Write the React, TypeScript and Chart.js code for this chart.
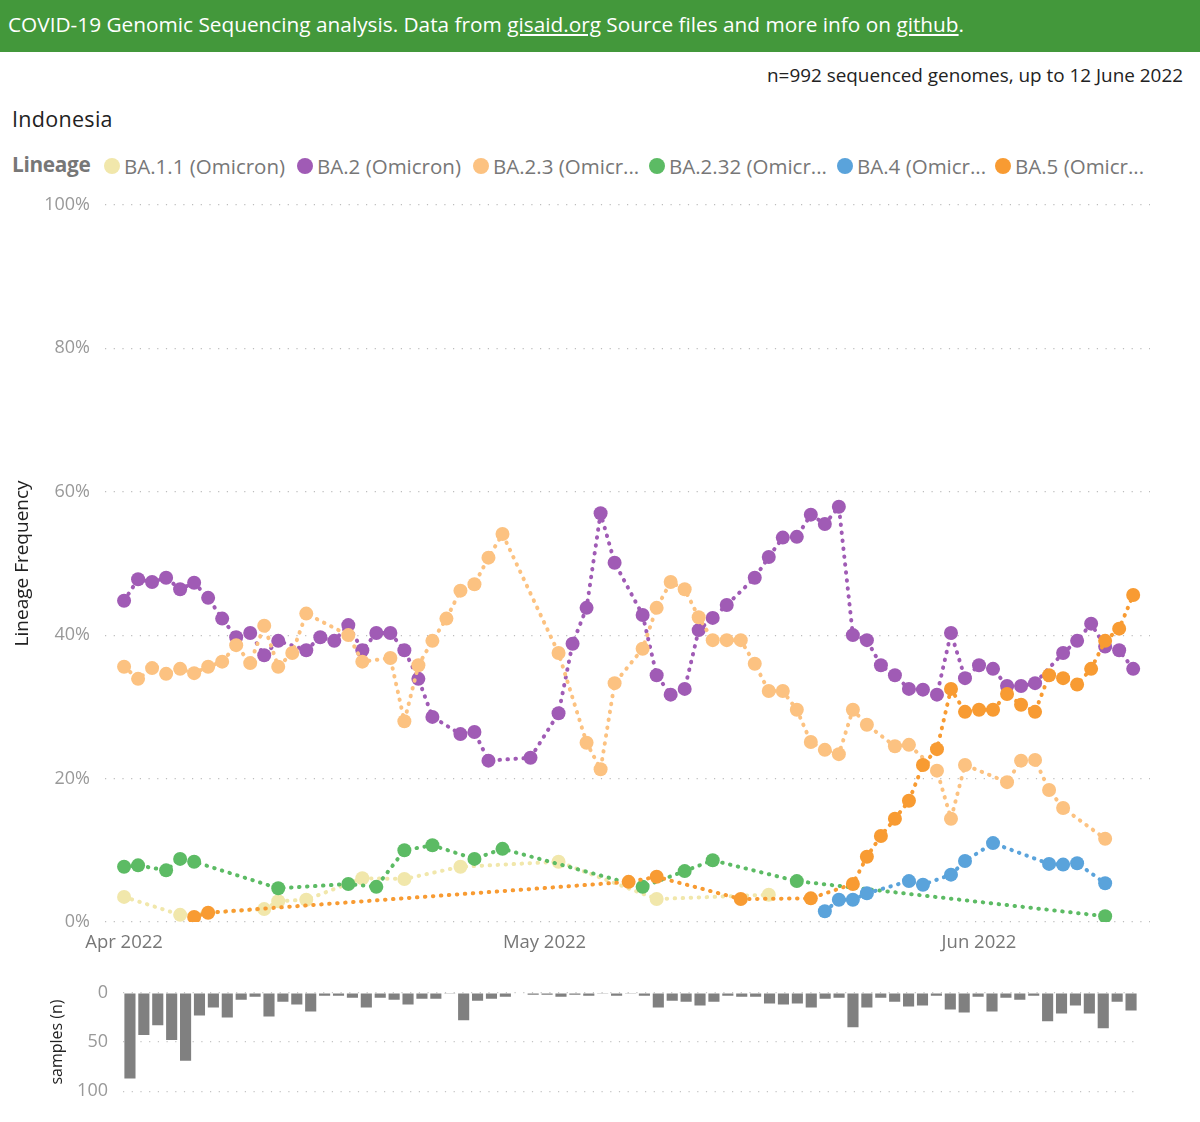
import React, { useEffect, useRef } from "react";
import { Chart, registerables } from "chart.js";

Chart.register(...registerables);

// Day offsets are counted from 1 April 2022 (day 0).
const xTickDays = [0, 30, 61];
const xTickLabels = ["Apr 2022", "May 2022", "Jun 2022"];
const yTicksPct = [0, 20, 40, 60, 80, 100];

const seriesNames = [
  "BA.1.1 (Omicron)",
  "BA.2 (Omicron)",
  "BA.2.3 (Omicron)",
  "BA.2.32 (Omicron)",
  "BA.4 (Omicron)",
  "BA.5 (Omicron)",
];
const legendLabels = [
  "BA.1.1 (Omicron)",
  "BA.2 (Omicron)",
  "BA.2.3 (Omicr...",
  "BA.2.32 (Omicr...",
  "BA.4 (Omicr...",
  "BA.5 (Omicr...",
];
const seriesColors = ["#F1E7AB", "#A05BB5", "#FCC281", "#5CBB64", "#5AA3DB", "#F89B32"];

const ba11Days = [0, 4, 10, 11, 13, 17, 20, 24, 31, 38, 46];
const ba11Vals = [3.5, 1.0, 1.8, 2.9, 3.1, 6.1, 6.0, 7.7, 8.4, 3.2, 3.8];

const ba2Days = [0, 1, 2, 3, 4, 5, 6, 7, 8, 9, 10, 11, 13, 14, 15, 16, 17, 18, 19, 20, 21, 22, 24, 25, 26, 29, 31, 32, 33, 34, 35, 37, 38, 39, 40, 41, 42, 43, 45, 46, 47, 48, 49, 50, 51, 52, 53, 54, 55, 56, 57, 58, 59, 60, 61, 62, 63, 64, 65, 67, 68, 69, 70, 71, 72];
const ba2Vals = [44.8, 47.8, 47.4, 48.0, 46.4, 47.3, 45.2, 42.3, 39.7, 40.3, 37.2, 39.2, 37.9, 39.7, 39.2, 41.4, 37.9, 40.3, 40.3, 37.9, 33.9, 28.6, 26.2, 26.5, 22.5, 22.9, 29.1, 38.8, 43.8, 57.0, 50.1, 42.8, 34.4, 31.7, 32.5, 40.7, 42.4, 44.2, 48.0, 50.9, 53.6, 53.7, 56.8, 55.5, 57.9, 40.0, 39.3, 35.8, 34.4, 32.5, 32.4, 31.7, 40.3, 34.0, 35.8, 35.3, 32.9, 32.9, 33.3, 37.5, 39.2, 41.6, 38.4, 37.9, 35.3];

const ba23Days = [0, 1, 2, 3, 4, 5, 6, 7, 8, 9, 10, 11, 12, 13, 16, 17, 19, 20, 21, 22, 23, 24, 25, 26, 27, 31, 33, 34, 35, 37, 38, 39, 40, 41, 42, 43, 44, 45, 46, 47, 48, 49, 50, 51, 52, 53, 55, 56, 58, 59, 60, 63, 64, 65, 66, 67, 70];
const ba23Vals = [35.6, 33.9, 35.4, 34.6, 35.3, 34.7, 35.6, 36.3, 38.6, 36.1, 41.3, 35.6, 37.5, 43.0, 40.0, 36.3, 36.8, 28.0, 35.8, 39.2, 42.3, 46.2, 47.1, 50.8, 54.1, 37.5, 25.0, 21.3, 33.3, 38.1, 43.8, 47.4, 46.4, 42.5, 39.3, 39.3, 39.3, 36.0, 32.2, 32.2, 29.6, 25.1, 24.0, 23.4, 29.6, 27.5, 24.5, 24.7, 21.1, 14.4, 21.9, 19.5, 22.5, 22.6, 18.4, 15.9, 11.6];

const ba232Days = [0, 1, 3, 4, 5, 11, 16, 18, 20, 22, 25, 27, 37, 40, 42, 48, 70];
const ba232Vals = [7.7, 7.9, 7.2, 8.8, 8.4, 4.7, 5.3, 4.9, 10.0, 10.7, 8.8, 10.2, 4.9, 7.1, 8.6, 5.7, 0.8];

const ba4Days = [50, 51, 52, 53, 56, 57, 59, 60, 62, 66, 67, 68, 70];
const ba4Vals = [1.5, 3.1, 3.1, 4.0, 5.7, 5.2, 6.6, 8.5, 11.0, 8.1, 8.0, 8.2, 5.4];

const ba5Days = [5, 6, 36, 38, 44, 49, 52, 53, 54, 55, 56, 57, 58, 59, 60, 61, 62, 63, 64, 65, 66, 67, 68, 69, 70, 71, 72];
const ba5Vals = [0.7, 1.3, 5.6, 6.3, 3.2, 3.3, 5.3, 9.1, 12.0, 14.4, 16.9, 21.9, 24.1, 32.5, 29.3, 29.6, 29.6, 31.8, 30.3, 29.3, 34.4, 34.0, 33.1, 35.3, 39.2, 40.9, 45.6];

// samples (n) per day, day 0 .. day 72
const sampleDays = [0, 1, 2, 3, 4, 5, 6, 7, 8, 9, 10, 11, 12, 13, 14, 15, 16, 17, 18, 19, 20, 21, 22, 23, 24, 25, 26, 27, 28, 29, 30, 31, 32, 33, 34, 35, 36, 37, 38, 39, 40, 41, 42, 43, 44, 45, 46, 47, 48, 49, 50, 51, 52, 53, 54, 55, 56, 57, 58, 59, 60, 61, 62, 63, 64, 65, 66, 67, 68, 69, 70, 71, 72];
const sampleCounts = [87, 43, 33, 48, 69, 23, 15, 25, 7, 4, 24, 9, 12, 19, 3, 3, 5, 15, 5, 7, 12, 6, 6, 1, 28, 8, 6, 4, 0, 2, 2, 4, 2, 3, 1, 3, 1, 3, 15, 8, 9, 13, 9, 3, 4, 4, 11, 12, 11, 15, 6, 5, 35, 15, 5, 9, 14, 13, 3, 17, 20, 4, 19, 5, 7, 3, 29, 21, 13, 21, 36, 9, 18];
const sampleTicks = [0, 50, 100];

const seriesDays = [ba11Days, ba2Days, ba23Days, ba232Days, ba4Days, ba5Days];
const seriesVals = [ba11Vals, ba2Vals, ba23Vals, ba232Vals, ba4Vals, ba5Vals];

const FONT = "'Open Sans', 'Noto Sans', sans-serif";

function MainChart() {
  const ref = useRef<HTMLCanvasElement>(null);
  useEffect(() => {
    const datasets = seriesNames.map((name, i) => ({
      label: name,
      data: seriesDays[i].map((d, j) => ({ x: d, y: seriesVals[i][j] })),
      borderColor: seriesColors[i],
      backgroundColor: seriesColors[i],
      pointBackgroundColor: seriesColors[i],
      pointBorderWidth: 0,
      pointRadius: 7,
      borderWidth: 4,
      borderDash: [0.5, 7.5],
      borderCapStyle: "round" as const,
      tension: 0,
      fill: false,
      order: seriesNames.length - i,
    }));
    const chart = new Chart(ref.current!, {
      type: "line",
      data: { datasets },
      options: {
        animation: false,
        responsive: false,
        layout: { padding: { top: 13, right: 50, left: 0, bottom: 0 } },
        plugins: { legend: { display: false }, tooltip: { enabled: false } },
        scales: {
          x: {
            type: "linear",
            min: -1.36,
            max: 73.2,
            grid: { display: false },
            border: { display: false },
            afterBuildTicks: (s: any) => {
              s.ticks = xTickDays.map((v) => ({ value: v }));
            },
            afterFit: (s: any) => {
              s.height = 45;
            },
            ticks: {
              autoSkip: false,
              maxRotation: 0,
              padding: 2,
              color: "#777",
              font: { size: 18.5, family: FONT },
              callback: (v: any) => {
                const k = xTickDays.indexOf(Number(v));
                return k >= 0 ? xTickLabels[k] : "";
              },
            },
          },
          y: {
            min: 0,
            max: 100,
            afterBuildTicks: (s: any) => {
              s.ticks = yTicksPct.map((v) => ({ value: v }));
            },
            afterFit: (s: any) => {
              s.width = 105;
            },
            grid: { color: "#bdbdbd", lineWidth: 1.2, drawTicks: false },
            border: { display: false, dash: [1.2, 7.5] },
            ticks: {
              padding: 15,
              color: "#999",
              font: { size: 18, family: FONT },
              callback: (v: any) => v + "%",
            },
            title: {
              display: true,
              text: "Lineage Frequency",
              color: "#222",
              font: { size: 19, family: FONT },
              padding: { top: 11, bottom: 0 },
            },
          },
        },
      },
    });
    return () => chart.destroy();
  }, []);
  return <canvas ref={ref} width={1200} height={788} style={{ position: "absolute", left: 0, top: 179 }} />;
}

function SamplesChart() {
  const ref = useRef<HTMLCanvasElement>(null);
  useEffect(() => {
    const chart = new Chart(ref.current!, {
      type: "bar",
      data: {
        labels: sampleDays,
        datasets: [
          {
            label: "samples (n)",
            data: sampleCounts,
            backgroundColor: "#808080",
            barPercentage: 0.8,
            categoryPercentage: 1.0,
          },
        ],
      },
      options: {
        animation: false,
        responsive: false,
        layout: { padding: { top: 17, right: 62, left: 0, bottom: 20 } },
        plugins: { legend: { display: false }, tooltip: { enabled: false } },
        scales: {
          x: { display: false },
          y: {
            reverse: true,
            min: 0,
            max: 100,
            afterBuildTicks: (s: any) => {
              s.ticks = sampleTicks.map((v) => ({ value: v }));
            },
            afterFit: (s: any) => {
              s.width = 123;
            },
            grid: { color: "#c4c4c4", lineWidth: 1.2, drawTicks: false },
            border: { display: false, dash: [1.2, 7.5] },
            ticks: { padding: 15, color: "#999", font: { size: 18, family: FONT } },
            title: {
              display: true,
              text: "samples (n)",
              color: "#222",
              font: { size: 16, family: FONT },
              padding: { top: 48, bottom: 0 },
            },
          },
        },
      },
    });
    return () => chart.destroy();
  }, []);
  return <canvas ref={ref} width={1200} height={150} style={{ position: "absolute", left: 0, top: 967 }} />;
}

const legendCircleX = [112, 305, 481, 657, 845, 1003];

export default function App() {
  useEffect(() => {
    document.body.style.margin = "0";
  }, []);
  return (
    <div style={{ position: "relative", width: 1200, height: 1122, background: "#fff", fontFamily: FONT, overflow: "hidden" }}>
      <div
        style={{
          position: "absolute",
          left: 0,
          top: 0,
          width: 1200,
          height: 52,
          background: "#43983B",
          color: "#fff",
          fontSize: 20.8,
          lineHeight: "49px",
          paddingLeft: 8,
          boxSizing: "border-box",
          whiteSpace: "nowrap",
        }}
      >
        COVID-19 Genomic Sequencing analysis. Data from <span style={{ textDecoration: "underline" }}>gisaid.org</span> Source files and more info on{" "}
        <span style={{ textDecoration: "underline" }}>github</span>.
      </div>
      <div style={{ position: "absolute", right: 17, top: 62, fontSize: 18.9, color: "#222", whiteSpace: "nowrap" }}>
        n=992 sequenced genomes, up to 12 June 2022
      </div>
      <div style={{ position: "absolute", left: 12, top: 104, fontSize: 21.5, color: "#222", letterSpacing: 0.3 }}>Indonesia</div>
      <div style={{ position: "absolute", left: 12, top: 150, fontSize: 20.8, color: "#777", fontWeight: 700, letterSpacing: -0.3 }}>Lineage</div>
      {legendLabels.map((lab, i) => (
        <div key={lab} style={{ position: "absolute", left: legendCircleX[i] - 8, top: 151, whiteSpace: "nowrap", display: "flex", alignItems: "center", height: 30 }}>
          <span style={{ display: "inline-block", width: 16, height: 16, borderRadius: 8, background: seriesColors[i], marginRight: 4 }} />
          <span style={{ fontSize: 20.5, color: "#777" }}>{lab}</span>
        </div>
      ))}
      <MainChart />
      <SamplesChart />
    </div>
  );
}
